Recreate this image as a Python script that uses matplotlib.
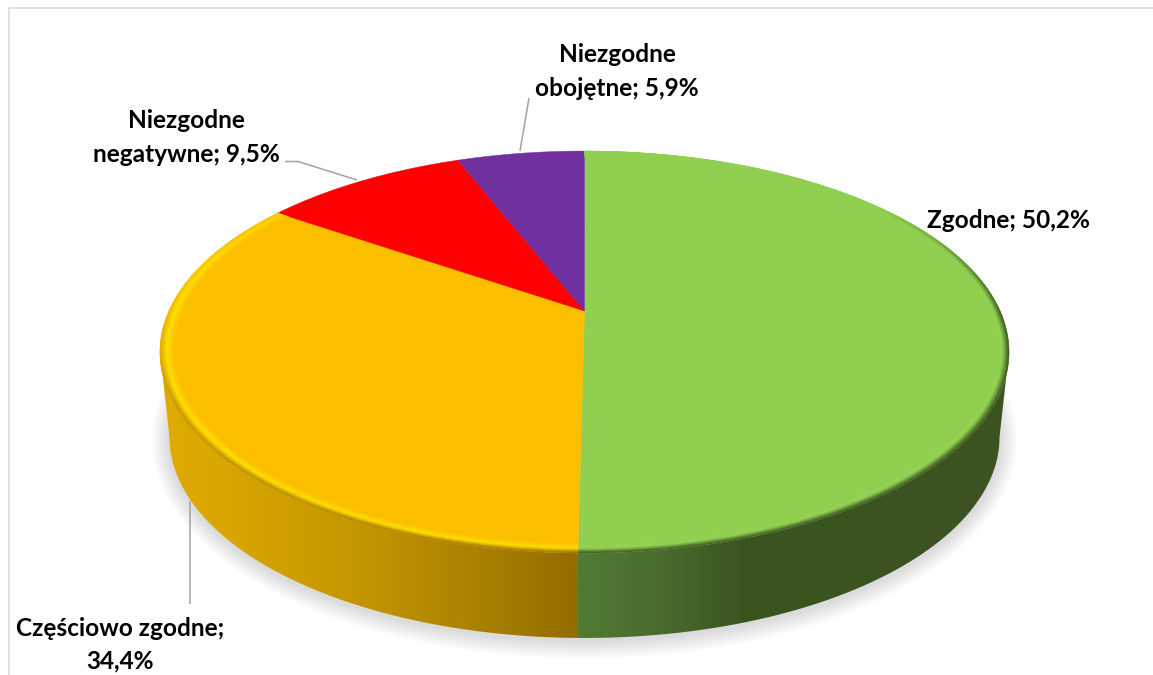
import numpy as np
import matplotlib
matplotlib.use("Agg")
import matplotlib.pyplot as plt
from matplotlib.collections import PolyCollection
from matplotlib.colors import to_rgb, LinearSegmentedColormap
from matplotlib.patches import Polygon

plt.rcParams['font.family'] = ['Lato', 'DejaVu Sans']

categories = ["Zgodne", "Częściowo zgodne", "Niezgodne negatywne", "Niezgodne obojętne"]
shares = [50.2, 34.4, 9.5, 5.9]
top_colors = ["#90cf50", "#fcbf00", "#ff0000", "#7030a0"]
highlight_colors = ["#98d658", "#ffe000", "#ff0000", "#7030a0"]
wall_colors = ["#3a5320", "#dca900", "#800000", "#381850"]

CX, CY = 584.5, 311.0
K, R, S = 192.6, 0.204, 415.6
DEPTH = 85.0
BOTTOM_SHRINK = 415.0 / 424.5


def project(theta_deg, radius=1.0, depth=0.0, shrink=1.0):
    t = np.radians(theta_deg)
    x, y = radius * np.sin(t), radius * np.cos(t)
    d = 1 + R * y
    return CX + shrink * S * x / d, CY - K * y / d + depth


edges = 3.6 * np.concatenate([[0], np.cumsum(shares)])
edges[-1] = 360.0

fig = plt.figure(figsize=(11.53, 6.75), dpi=100, facecolor="white")
ax = fig.add_axes([0, 0, 1, 1])
ax.set_axis_off()

# soft shadow under the pie
th = np.linspace(0, 360, 361)
for grow in np.arange(18, 0, -1.5):
    bx, by = project(th, depth=DEPTH + 2.5, shrink=BOTTOM_SHRINK)
    mx, my = bx.mean(), 437.0
    ex = mx + (bx - mx) * (1 + grow / 415)
    ey = my + (by - my) * (1 + grow / 201)
    ax.add_patch(Polygon(np.c_[ex, ey], closed=True, fc="black", ec="none", alpha=0.013, zorder=1))

# side walls with horizontal gradients
r_ext = np.degrees(np.arccos(-R))
wall_stops = {
    0: [(0.0, "#527a36"), (0.19, "#4a6b2e"), (0.38, "#3b5521"), (1.0, "#3a5320")],
    1: [(0.0, "#e0ab00"), (0.2, "#d6a400"), (0.4, "#c99a00"), (0.6, "#b98d00"),
        (0.8, "#a67e00"), (1.0, "#946c00")],
}
spans = {0: (r_ext, edges[1]), 1: (edges[1], 360 - r_ext)}
for i in (1, 0):
    a, b = spans[i]
    t = np.linspace(a, b, 200)
    xt, yt = project(t)
    xb, yb = project(t, depth=DEPTH, shrink=BOTTOM_SHRINK)
    poly = Polygon(np.r_[np.c_[xt, yt], np.c_[xb, yb][::-1]], closed=True,
                   fc="none", ec="none", transform=ax.transData)
    ax.add_patch(poly)
    x0, x1 = min(xt.min(), xb.min()), max(xt.max(), xb.max())
    cmap = LinearSegmentedColormap.from_list("w", wall_stops[i])
    if i == 0:
        grad = np.linspace(0, 1, 256)[None, :]
    else:
        grad = np.linspace(0, 1, 256)[None, :]
    im = ax.imshow(grad, extent=(x0, x1, 645, 340), cmap=cmap, aspect="auto", zorder=2)
    im.set_clip_path(poly)

# top faces
for i in range(4):
    t = np.linspace(edges[i], edges[i + 1], 240)
    x, y = project(t)
    ax.add_patch(Polygon(np.r_[[[CX, CY]], np.c_[x, y]], closed=True,
                         fc=top_colors[i], ec=top_colors[i], lw=0.3, zorder=3))

# bevel along the rim of the two large slices
levels = np.linspace(0.96, 1.0, 15)
for i in (0, 1):
    angs = np.arange(edges[i], edges[i + 1] + 0.01, 1.0)
    angs[-1] = edges[i + 1]
    verts, cols = [], []
    base = np.array(to_rgb(top_colors[i]))
    hi = np.array(to_rgb(highlight_colors[i]))
    wall_c = np.array(to_rgb(wall_colors[i]))
    for a0, a1 in zip(angs[:-1], angs[1:]):
        am = 0.5 * (a0 + a1)
        lit = np.clip(np.cos(np.radians(am - 235)) * 0.9 + 0.35, 0, 1) if i == 1 else \
            np.clip(np.cos(np.radians(am - 170)) * 1.2, 0, 0.55)
        dark = np.clip(np.cos(np.radians(am - 150)) * 1.6 + 0.2, 0, 1) if i == 0 else \
            np.clip(np.cos(np.radians(am - 190)) * 1.6 + 0.1, 0, 1)
        if am < 180:
            wc = wall_c
        else:
            wc = np.array(to_rgb("#d6a400")) * (1 - (270 - am) / 90 * 0.32) if am < 270 else np.array(to_rgb("#dca900"))
        for r0, r1 in zip(levels[:-1], levels[1:]):
            p = (0.5 * (r0 + r1) - levels[0]) / (levels[-1] - levels[0])
            h = lit * np.clip(1 - abs(p - 0.62) / 0.45, 0, 1)
            d = dark * np.clip((p - 0.6) / 0.4, 0, 1) ** 1.2
            c = base + (hi - base) * h
            c = c + (wc - c) * d
            xa, ya = project(np.array([a0, a1, a1, a0]),
                             radius=np.array([r0, r0, r1, r1]))
            verts.append(np.c_[xa, ya])
            cols.append(np.clip(c, 0, 1))
    ax.add_collection(PolyCollection(verts, facecolors=cols, edgecolors=cols,
                                     linewidths=0.3, zorder=4))

# leader lines
leader = dict(color="#a6a6a6", lw=1.15, zorder=5, solid_capstyle="butt")
ax.plot([190, 190], [501, 604], **leader)
ax.plot([285, 298, 357], [161.5, 161.5, 180], **leader)
ax.plot([529, 520], [98, 151], **leader)

# data labels
def label(i):
    return f"{shares[i]:.1f}%".replace(".", ",")

font = dict(fontsize=17.6, fontweight="bold", color="black", ha="center", va="center",
            zorder=6, linespacing=1.0)
ax.text(1008.5, 221, f"{categories[0]}; {label(0)}", **font)
ax.text(120.5, 628, f"{categories[1]};", **font)
ax.text(120, 661, label(1), **font)
ax.text(186, 121, "Niezgodne", **font)
ax.text(186, 154, f"negatywne; {label(2)}", **font)
ax.text(617, 55, "Niezgodne", **font)
ax.text(617, 88, f"obojętne; {label(3)}", **font)

# chart frame
frame = dict(color="#d9d9d9", lw=1.1, zorder=0, solid_capstyle="butt")
ax.plot([8.5, 8.5, 1153], [675, 8, 8], **frame)

ax.set_xlim(0, 1153)
ax.set_ylim(675, 0)
fig.savefig("out.png", dpi=100)
